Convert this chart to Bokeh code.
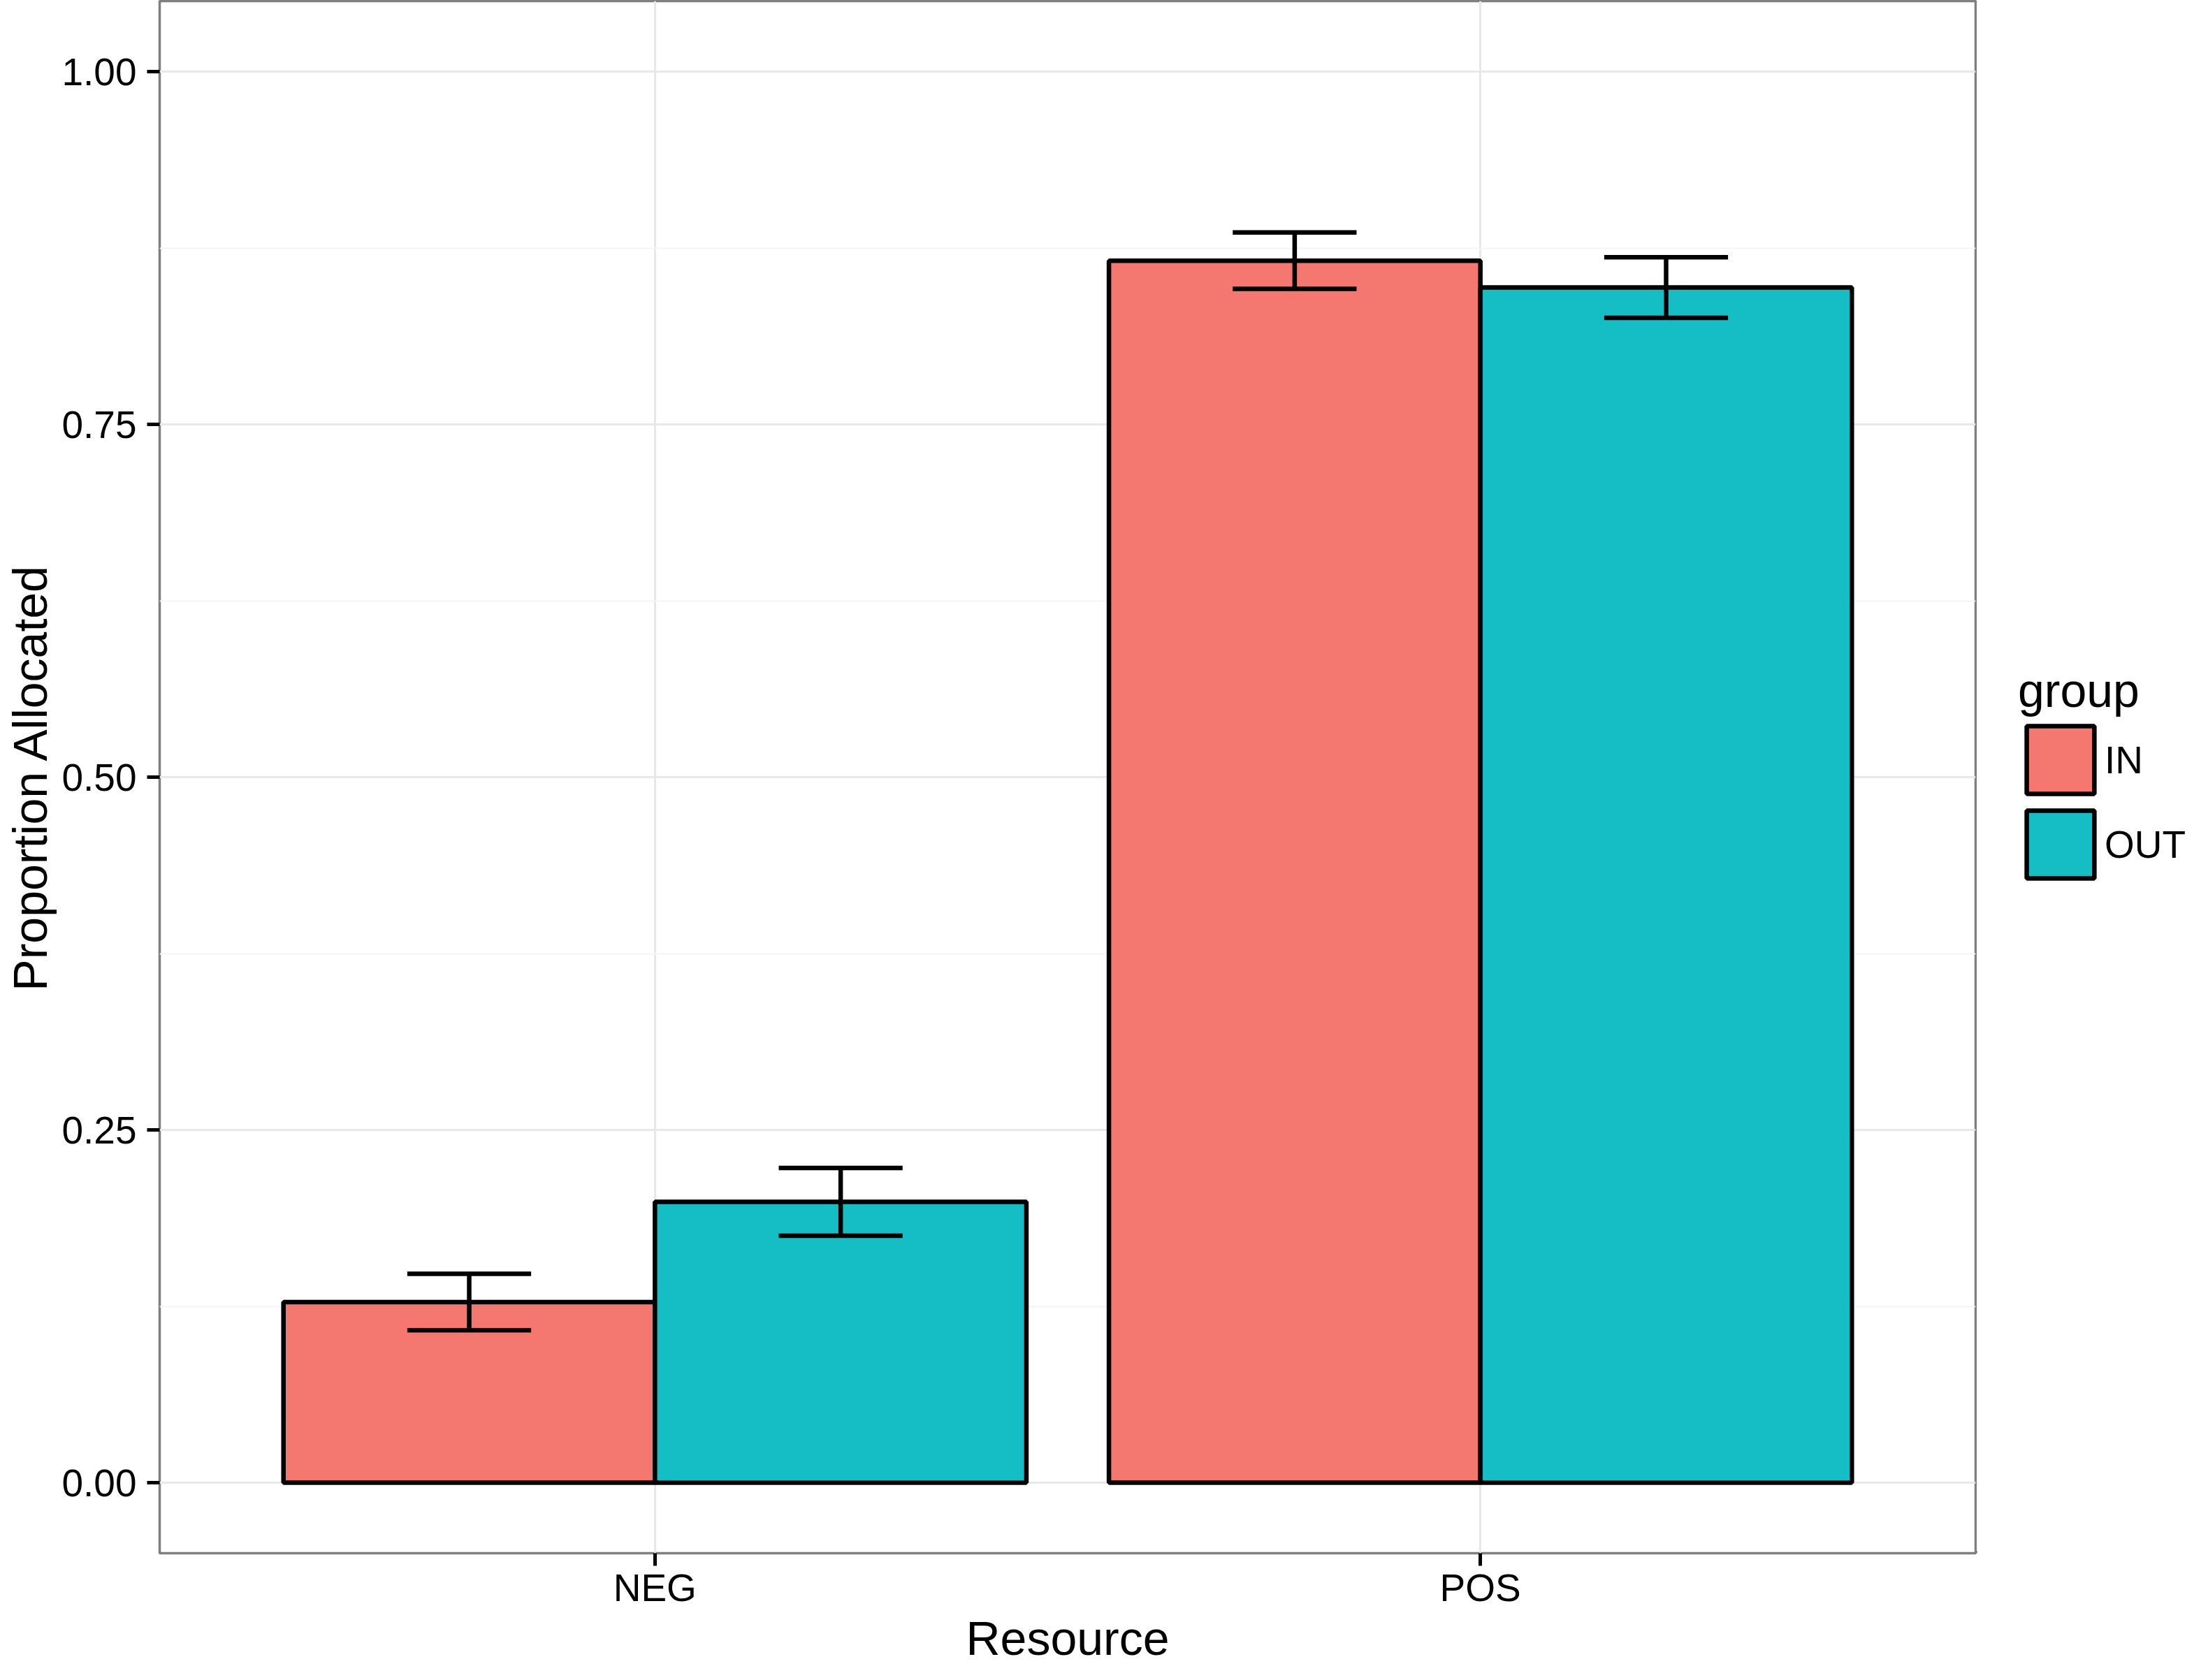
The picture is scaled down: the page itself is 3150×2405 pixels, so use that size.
from bokeh.plotting import figure
from bokeh.layouts import row
from bokeh.models import Range1d, FixedTicker, Legend, LegendItem
from bokeh.embed import file_html
from bokeh.resources import INLINE

# ---- data ----
categories = ["NEG", "POS"]
groups = ["IN", "OUT"]
in_mean = [0.128, 0.866]
in_se = [0.020, 0.020]
out_mean = [0.199, 0.847]
out_se = [0.024, 0.0215]
group_colors = ["#F47770", "#14BEC4"]
y_ticks = [0.0, 0.25, 0.5, 0.75, 1.0]
y_tick_labels = ["0.00", "0.25", "0.50", "0.75", "1.00"]
y_minor = [0.125, 0.375, 0.625, 0.875]
x_title = "Resource"
y_title = "Proportion Allocated"
legend_title = "group"

FONT = "Liberation Sans"
W, H = 3150, 2405
MAIN_W = 2829

p = figure(width=MAIN_W, height=H, output_backend="svg", toolbar_location=None,
           title=None,
           x_range=Range1d(0.4, 2.6), y_range=Range1d(-0.05, 1.05),
           min_border_left=228, min_border_right=2,
           min_border_top=1, min_border_bottom=182)
p.background_fill_color = "white"
p.border_fill_color = "white"
p.outline_line_color = "#7F7F7F"
p.outline_line_width = 3.5

dodge = 0.225
bar_w = 0.45
cap_half = 0.075
LW = 6.5
cat_pos = [i + 1 for i in range(len(categories))]

for means, col, off in zip([in_mean, out_mean], group_colors, [-dodge, dodge]):
    xs = [c + off for c in cat_pos]
    p.vbar(x=xs, top=means, bottom=0, width=bar_w, fill_color=col,
           line_color="black", line_width=LW)

for means, ses, off in zip([in_mean, out_mean], [in_se, out_se], [-dodge, dodge]):
    xs = [c + off for c in cat_pos]
    lo = [m - s for m, s in zip(means, ses)]
    hi = [m + s for m, s in zip(means, ses)]
    p.segment(x0=xs, y0=lo, x1=xs, y1=hi, line_color="black", line_width=LW)
    p.segment(x0=[x - cap_half for x in xs], y0=hi, x1=[x + cap_half for x in xs], y1=hi,
              line_color="black", line_width=LW)
    p.segment(x0=[x - cap_half for x in xs], y0=lo, x1=[x + cap_half for x in xs], y1=lo,
              line_color="black", line_width=LW)

# axes
p.xaxis.ticker = FixedTicker(ticks=cat_pos)
p.xaxis.major_label_overrides = {c: lab for c, lab in zip(cat_pos, categories)}
p.yaxis.ticker = FixedTicker(ticks=y_ticks, minor_ticks=y_minor)
p.yaxis.major_label_overrides = {t: lab for t, lab in zip(y_ticks, y_tick_labels)}

for ax in (p.xaxis, p.yaxis):
    ax.axis_line_color = None
    ax.major_tick_in = 0
    ax.major_tick_out = 18
    ax.major_tick_line_width = 5
    ax.major_tick_line_color = "black"
    ax.minor_tick_line_color = None
    ax.major_label_text_font = FONT
    ax.major_label_text_font_size = "55px"
    ax.major_label_text_color = "black"
    ax.axis_label_text_font = FONT
    ax.axis_label_text_font_size = "68px"
    ax.axis_label_text_font_style = "normal"
    ax.axis_label_text_color = "black"

p.xaxis.axis_label = x_title
p.yaxis.axis_label = y_title
p.xaxis.major_label_standoff = 0
p.xaxis.axis_label_standoff = 0
p.yaxis.major_label_standoff = 15
p.yaxis.axis_label_standoff = 4

p.xgrid.grid_line_color = "#E8E8E8"
p.xgrid.grid_line_width = 3
p.ygrid.grid_line_color = "#E8E8E8"
p.ygrid.grid_line_width = 3
p.ygrid.minor_grid_line_color = "#F5F5F5"
p.ygrid.minor_grid_line_width = 2

# ---- legend area to the right of the panel ----
LEG_W = W - MAIN_W
q = figure(width=LEG_W, height=H, output_backend="svg", toolbar_location=None,
           title=None, x_range=Range1d(0, 1), y_range=Range1d(0, 1),
           min_border_left=0, min_border_right=0, min_border_top=0, min_border_bottom=0)
q.axis.visible = False
q.grid.visible = False
q.outline_line_color = None
q.background_fill_color = "white"
q.border_fill_color = "white"

# key glyphs share the bar style; their single point lies outside the visible range
key_renderers = [q.vbar(x=[-10], top=[0], bottom=0, width=bar_w, fill_color=col,
                        line_color="black", line_width=LW) for col in group_colors]

legend = Legend(
    items=[LegendItem(label=g, renderers=[r]) for g, r in zip(groups, key_renderers)],
    title=legend_title,
    location=(59, 954),
    orientation="vertical",
    glyph_width=121, glyph_height=121, spacing=0,
    label_standoff=3,
    padding=0, margin=0,
    border_line_color=None, background_fill_alpha=0,
    label_text_font=FONT, label_text_font_size="55px", label_text_color="black",
    title_text_font=FONT, title_text_font_size="68px", title_text_font_style="normal",
    title_text_color="black", title_standoff=0,
)
q.add_layout(legend)

layout = row(p, q, spacing=0)
open("out.html", "w").write(file_html(layout, INLINE))
